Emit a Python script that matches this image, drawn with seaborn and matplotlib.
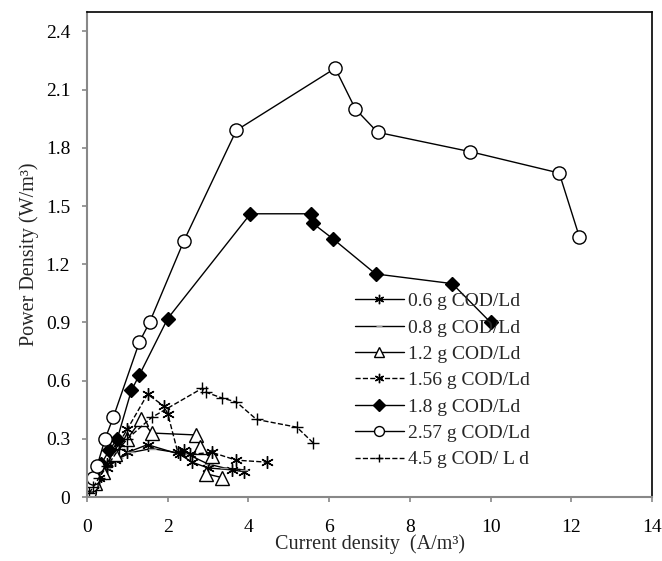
import seaborn as sns
import matplotlib.pyplot as plt
import pandas as pd

# ----------------------------
# Data
# ----------------------------
labels = ["0.6 g COD/Ld", "0.8 g COD/Ld", "1.2 g COD/Ld", "1.56 g COD/Ld",
          "1.8 g COD/Ld", "2.57 g COD/Ld", "4.5 g COD/ L d"]

x_06 = [0.05, 0.1, 0.2, 0.35, 0.5, 0.7, 1.0, 1.5, 2.3, 2.6, 3.0, 3.6, 3.9]
y_06 = [0.02, 0.04, 0.07, 0.11, 0.15, 0.19, 0.23, 0.27, 0.22, 0.18, 0.15, 0.14, 0.13]

x_08 = [0.05, 0.15, 0.3, 0.5, 0.8, 1.1, 1.6, 2.5, 3.0, 3.4, 3.9]
y_08 = [0.02, 0.05, 0.1, 0.15, 0.2, 0.23, 0.25, 0.22, 0.17, 0.15, 0.14]

x_12 = [0.05, 0.2, 0.4, 0.7, 1.0, 1.35, 1.6, 2.7, 2.8, 3.1, 2.95, 3.35]
y_12 = [0.02, 0.07, 0.13, 0.22, 0.3, 0.4, 0.33, 0.32, 0.26, 0.21, 0.12, 0.10]

x_156 = [0.05, 0.15, 0.3, 0.5, 0.8, 1.0, 1.5, 1.9, 2.0, 2.25, 2.4, 2.55, 3.1, 3.7, 4.45]
y_156 = [0.02, 0.06, 0.1, 0.17, 0.28, 0.35, 0.53, 0.47, 0.43, 0.23, 0.24, 0.22, 0.23, 0.19, 0.18]

x_18 = [0.05, 0.1, 0.2, 0.35, 0.55, 0.75, 1.1, 1.3, 2.0, 4.05, 5.55, 5.6, 6.1, 7.15, 9.05, 10.0]
y_18 = [0.02, 0.05, 0.1, 0.17, 0.24, 0.3, 0.55, 0.63, 0.92, 1.46, 1.46, 1.41, 1.33, 1.15, 1.1, 0.9]

x_257 = [0.05, 0.1, 0.15, 0.25, 0.45, 0.65, 1.3, 1.55, 2.4, 3.7, 6.15, 6.65, 7.2, 9.5, 11.7, 12.2]
y_257 = [0.02, 0.06, 0.1, 0.16, 0.3, 0.41, 0.8, 0.9, 1.32, 1.89, 2.21, 2.0, 1.88, 1.78, 1.67, 1.34]

x_45 = [0.05, 0.15, 0.3, 0.5, 0.8, 1.0, 1.6, 2.85, 2.95, 3.35, 3.7, 4.2, 5.2, 5.6]
y_45 = [0.02, 0.05, 0.1, 0.16, 0.25, 0.3, 0.41, 0.56, 0.54, 0.51, 0.49, 0.40, 0.36, 0.28]

y_ticks = [0, 0.3, 0.6, 0.9, 1.2, 1.5, 1.8, 2.1, 2.4]
y_ticklabels = ["0", "0.3", "0.6", "0.9", "1.2", "1.5", "1.8", "2.1", "2.4"]
x_ticks = [0, 2, 4, 6, 8, 10, 12, 14]

series = [
    (x_06, y_06, dict(marker=(6, 2, 0), markersize=9, linestyle="-", mfc="black")),
    (x_08, y_08, dict(marker="_", markersize=6, linestyle="-", mec="#999999")),
    (x_12, y_12, dict(marker="^", markersize=10, linestyle="-", mfc="white")),
    (x_156, y_156, dict(marker=(6, 2, 0), markersize=9, linestyle="--")),
    (x_18, y_18, dict(marker="D", markersize=7.5, linestyle="-", mfc="black")),
    (x_257, y_257, dict(marker="o", markersize=9.5, linestyle="-", mfc="white")),
    (x_45, y_45, dict(marker="+", markersize=8, linestyle="--")),
]

sns.set_theme(style="white")
plt.rcParams["font.family"] = ["Liberation Serif", "DejaVu Serif"]

fig = plt.figure(figsize=(6.62, 5.61), dpi=100)
ax = fig.add_axes([0.1314, 0.114, 0.8536, 0.8646])

for (xs, ys, style), lab in zip(series, labels):
    df = pd.DataFrame({"x": xs, "y": ys})
    kw = dict(color="black", mec="black", mew=1.0, linewidth=1.0)
    kw.update(style)
    sns.lineplot(data=df, x="x", y="y", sort=False, estimator=None,
                 ax=ax, label=lab, **kw)

ax.set_xlim(0, 14)
ax.set_ylim(0, 2.5)
ax.set_xticks(x_ticks)
ax.set_yticks(y_ticks)
ax.set_yticklabels(y_ticklabels)
ax.tick_params(axis="both", labelsize=14, colors="#888888", labelcolor="black",
               direction="out", length=3.6, width=1.2, left=True, bottom=True)
ax.tick_params(axis="x", pad=12)
ax.tick_params(axis="y", pad=8.5)

for side in ["left", "bottom"]:
    ax.spines[side].set_color("#888888")
    ax.spines[side].set_linewidth(1.5)
for side in ["top", "right"]:
    ax.spines[side].set_color("black")
    ax.spines[side].set_linewidth(1.2)

ax.set_xlabel("Current density  (A/m³)", fontsize=14.5, labelpad=-1)
ax.set_ylabel("Power Density (W/m³)", fontsize=14.5, labelpad=5)

ax.legend(loc="upper left", bbox_to_anchor=(0.4605, 0.4376), frameon=False,
          fontsize=14, handlelength=2.5, handletextpad=0.25, labelspacing=0.45,
          borderaxespad=0, markerscale=0.75)

fig.savefig("out.png", dpi=100)
plt.close(fig)
